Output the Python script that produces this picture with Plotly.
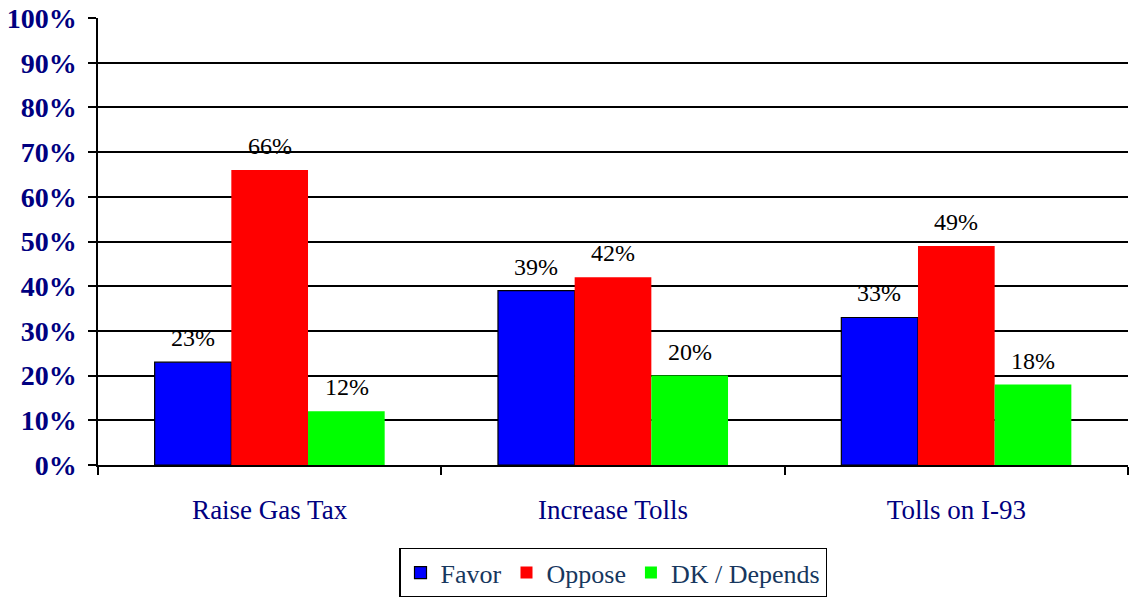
import plotly.graph_objects as go

categories = ["Raise Gas Tax", "Increase Tolls", "Tolls on I-93"]
favor = [23, 39, 33]
oppose = [66, 42, 49]
dk = [12, 20, 18]
series_names = ["Favor", "Oppose", "DK / Depends"]
colors = ["#0000FF", "#FF0000", "#00FF00"]
y_ticks = list(range(0, 101, 10))
y_tick_labels = [f"{v}%" for v in y_ticks]

fig = go.Figure()
series = [favor, oppose, dk]
line_widths = [1.2, 0, 0]
for name, vals, col, lw in zip(series_names, series, colors, line_widths):
    fig.add_trace(go.Bar(
        name=name, x=categories, y=vals,
        marker=dict(color=col, line=dict(color="black", width=lw)),
    ))

bar_px = 77
offsets = [-bar_px, 0, bar_px]
for vals, off in zip(series, offsets):
    for c, v in zip(categories, vals):
        fig.add_annotation(
            x=c, y=v, text=f"{v}%", showarrow=False,
            xshift=off, yshift=9, yanchor="bottom",
            font=dict(family="Liberation Serif", size=24, color="black"),
        )

fig.update_layout(
    width=1130, height=597,
    paper_bgcolor="white", plot_bgcolor="white",
    margin=dict(l=98, r=2, t=18, b=132, autoexpand=False),
    barmode="group", bargap=0.33, bargroupgap=0,
    showlegend=True,
    legend=dict(
        orientation="h", x=0.5, xanchor="center", y=-0.185, yanchor="top",
        bordercolor="black", borderwidth=1.5,
        font=dict(family="Liberation Serif", size=26, color="#17375E"),
        traceorder="normal",
    ),
    font=dict(family="Liberation Serif"),
)
fig.update_yaxes(
    range=[0, 100], tickvals=y_ticks, ticktext=y_tick_labels,
    showgrid=True, gridcolor="black", gridwidth=1.5,
    showline=True, linecolor="black", linewidth=1.5,
    ticks="outside", ticklen=8, tickcolor="black", tickwidth=1.5,
    tickfont=dict(family="Liberation Serif", size=28, color="#000080", weight="bold"),
    ticklabelstandoff=6, automargin=False,
    zeroline=False,
)
fig.update_xaxes(
    showline=True, linecolor="black", linewidth=1.5,
    ticks="outside", tickson="boundaries", ticklen=8, tickcolor="black", tickwidth=1.5,
    tickfont=dict(family="Liberation Serif", size=27, color="#000080"),
    ticklabelstandoff=20, automargin=False,
    showgrid=False,
)

fig.write_html("out.html", config={"displayModeBar": False},
               post_script="document.body.style.margin='0';")
